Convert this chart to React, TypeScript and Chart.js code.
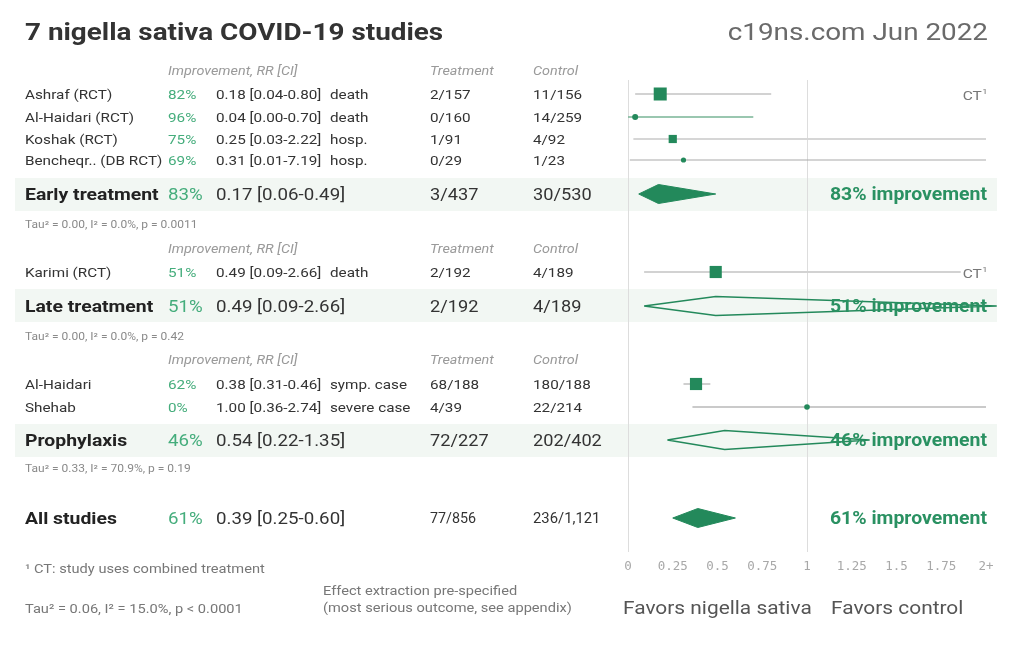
import React, { useEffect, useRef } from "react";
import { Chart, registerables } from "chart.js";

Chart.register(...registerables);

// ---------- data ----------
const studyNames = ["Ashraf (RCT)", "Al-Haidari (RCT)", "Koshak (RCT)", "Bencheqr.. (DB RCT)", "Karimi (RCT)", "Al-Haidari", "Shehab"];
const studyRR = [0.18, 0.04, 0.25, 0.31, 0.49, 0.38, 1.0];
const studyLo = [0.04, 0.0, 0.03, 0.01, 0.09, 0.31, 0.36];
const studyHi = [0.8, 0.7, 2.22, 7.19, 2.66, 0.46, 2.74];
const studyOutcome = ["death", "death", "hosp.", "hosp.", "death", "symp. case", "severe case"];
const studyTreatment = ["2/157", "0/160", "1/91", "0/29", "2/192", "68/188", "4/39"];
const studyControl = ["11/156", "14/259", "4/92", "1/23", "4/189", "180/188", "22/214"];
const studyCT = [true, false, false, false, true, false, false];

const groupNames = ["Early treatment", "Late treatment", "Prophylaxis", "All studies"];
const groupRR = [0.17, 0.49, 0.54, 0.39];
const groupLo = [0.06, 0.09, 0.22, 0.25];
const groupHi = [0.49, 2.66, 1.35, 0.6];
const groupTreatment = ["3/437", "2/192", "72/227", "77/856"];
const groupControl = ["30/530", "4/189", "202/402", "236/1,121"];
const groupStats = [
  "Tau\u00B2 = 0.00, I\u00B2 = 0.0%, p = 0.0011",
  "Tau\u00B2 = 0.00, I\u00B2 = 0.0%, p = 0.42",
  "Tau\u00B2 = 0.33, I\u00B2 = 70.9%, p = 0.19",
  "Tau\u00B2 = 0.06, I\u00B2 = 15.0%, p < 0.0001",
];

const xTickLabels = ["0", "0.25", "0.5", "0.75", "1", "1.25", "1.5", "1.75", "2+"];

const titleText = "7 nigella sativa COVID-19 studies";
const sourceText = "c19ns.com Jun 2022";
const headerLabels = ["Improvement, RR [CI]", "Treatment", "Control"];
const footnoteText = "\u00B9 CT: study uses combined treatment";
const extractionText = ["Effect extraction pre-specified", "(most serious outcome, see appendix)"];
const favorsLeft = "Favors nigella sativa";
const favorsRight = "Favors control";

// ---------- layout / style ----------
const FONT = "Roboto, 'Noto Sans', sans-serif";
const TICK_FONT = "'DejaVu Sans Mono', monospace";
const GREEN = "#23895b";
const PCT_GREEN = "#45ad7c";
const TEXT = "#333333";
const STUDY_ROW_Y = [94, 117, 139, 160, 272, 384, 407];
const GROUP_ROW_Y = [194, 306, 440, 518];
const STATS_ROW_Y = [224, 336, 468, 608];
const HEADER_ROW_Y = [70, 248, 359];
const BANDS = [[178, 211], [289, 322], [424, 457]];
const COL = { name: 25, pct: 168, rr: 216, outcome: 330, treat: 430, control: 533 };
const TEXT_DY = 1.5;
const MARKER_STYLE = ["rect", "circle", "rect", "circle", "rect", "rect", "circle"];
const MARKER_RADIUS = [9.2, 3, 5.8, 2.6, 8.6, 8.6, 2.8];
const CI_COLOR = ["#d2d2d2", "#78b596", "#d6d6d6", "#a9a9a9", "#d2d2d2", "#cfcfcf", "#b9b9b9"];
const CI_WIDTH = [2, 1.3, 2, 1, 2, 2, 1.3];
const DIAMOND_HALF = 9.5;
const X_MAX_CLIP = 2;
const DIAMOND_MAX_CLIP = 2.06;

const fmt = (v: number) => v.toFixed(2);
const pct = (rr: number) => `${Math.round((1 - rr) * 100)}%`;
const rrText = (rr: number, lo: number, hi: number) => `${fmt(rr)} [${fmt(lo)}-${fmt(hi)}]`;

function drawText(
  ctx: CanvasRenderingContext2D,
  s: string,
  x: number,
  y: number,
  font: string,
  color: string,
  align: CanvasTextAlign = "left",
  sx = 1
) {
  ctx.save();
  ctx.font = font;
  ctx.fillStyle = color;
  ctx.textAlign = align;
  ctx.textBaseline = "middle";
  ctx.translate(x, y + TEXT_DY);
  ctx.scale(sx, 1);
  ctx.fillText(s, 0, 0);
  ctx.restore();
}

const forestPlugin = {
  id: "forestText",
  beforeDraw(chart: any) {
    const ctx = chart.ctx as CanvasRenderingContext2D;
    const ys = chart.scales.y;
    ctx.save();
    ctx.fillStyle = "#f2f7f3";
    BANDS.forEach(([a, b]) => {
      const t = ys.getPixelForValue(a);
      const bt = ys.getPixelForValue(b);
      ctx.fillRect(15, t, 982, bt - t);
    });
    ctx.restore();
  },
  afterDraw(chart: any) {
    const ctx = chart.ctx as CanvasRenderingContext2D;
    const ys = chart.scales.y;
    const py = (v: number) => ys.getPixelForValue(v);

    // title
    drawText(ctx, titleText, 25, 32, `bold 24px ${FONT}`, TEXT, "left", 1.16);
    drawText(ctx, sourceText, 988, 32, `24px ${FONT}`, "#6a6a6a", "right", 1.16);

    // headers
    const hf = `italic 12.5px ${FONT}`;
    HEADER_ROW_Y.forEach((hy) => {
      const y = py(hy);
      drawText(ctx, headerLabels[0], COL.pct, y, hf, "#9a9a9a", "left", 1.15);
      drawText(ctx, headerLabels[1], COL.treat, y, hf, "#9a9a9a", "left", 1.15);
      drawText(ctx, headerLabels[2], COL.control, y, hf, "#9a9a9a", "left", 1.15);
    });

    // studies
    const sf = `13.5px ${FONT}`;
    const ssx = 1.13;
    studyNames.forEach((name, i) => {
      const y = py(STUDY_ROW_Y[i]);
      drawText(ctx, name, COL.name, y, sf, TEXT, "left", ssx);
      drawText(ctx, pct(studyRR[i]), COL.pct, y, sf, PCT_GREEN, "left", ssx);
      drawText(ctx, rrText(studyRR[i], studyLo[i], studyHi[i]), COL.rr, y, sf, TEXT, "left", ssx);
      drawText(ctx, studyOutcome[i], COL.outcome, y, sf, TEXT, "left", ssx);
      drawText(ctx, studyTreatment[i], COL.treat, y, sf, TEXT, "left", ssx);
      drawText(ctx, studyControl[i], COL.control, y, sf, TEXT, "left", ssx);
      if (studyCT[i]) {
        const csx = 1.15;
        ctx.font = `13.5px ${FONT}`;
        const w1 = ctx.measureText("CT").width * csx;
        ctx.font = `8px ${FONT}`;
        const w2 = ctx.measureText("1").width * csx;
        const right = 988;
        const left = right - w1 - w2 - 1;
        ctx.fillStyle = "#ffffff";
        ctx.fillRect(left - 2, y - 8, w1 + w2 + 4, 16);
        drawText(ctx, "CT", left, y + 1, `13.5px ${FONT}`, "#777777", "left", csx);
        drawText(ctx, "1", left + w1 + 0.5, y - 4, `8px ${FONT}`, "#777777", "left", csx);
      }
    });

    // groups
    groupNames.forEach((name, i) => {
      const y = py(GROUP_ROW_Y[i]);
      const big = `17px ${FONT}`;
      const gsx = 1.1;
      drawText(ctx, name, COL.name, y, `bold 17px ${FONT}`, "#222222", "left", 1.14);
      drawText(ctx, pct(groupRR[i]), COL.pct, y, big, PCT_GREEN, "left", gsx);
      drawText(ctx, rrText(groupRR[i], groupLo[i], groupHi[i]), COL.rr, y, big, TEXT, "left", gsx);
      if (i === 3) {
        drawText(ctx, groupTreatment[i], COL.treat, y, `14px ${FONT}`, TEXT, "left", 1.02);
        drawText(ctx, groupControl[i], COL.control, y, `14px ${FONT}`, TEXT, "left", 1.06);
      } else {
        drawText(ctx, groupTreatment[i], COL.treat, y, big, TEXT, "left", 1.07);
        drawText(ctx, groupControl[i], COL.control, y, big, TEXT, "left", 1.07);
      }
      drawText(ctx, `${pct(groupRR[i])} improvement`, 987, y, `bold 18px ${FONT}`, "#2a9162", "right", 1.08);
    });

    // group stats
    groupStats.forEach((s, i) => {
      const y = py(STATS_ROW_Y[i]);
      if (i < 3) drawText(ctx, s, COL.name, y, `10px ${FONT}`, "#8a8a8a", "left", 1.2);
      else drawText(ctx, s, COL.name, y, `12.5px ${FONT}`, "#777777", "left", 1.17);
    });

    // footnotes
    drawText(ctx, footnoteText, COL.name, 568, `12.5px ${FONT}`, "#777777", "left", 1.17);
    drawText(ctx, extractionText[0], 323, 590, `12.5px ${FONT}`, "#777777", "left", 1.17);
    drawText(ctx, extractionText[1], 323, 607, `12.5px ${FONT}`, "#777777", "left", 1.17);
    drawText(ctx, favorsLeft, 623, 608, `18px ${FONT}`, "#555555", "left", 1.16);
    drawText(ctx, favorsRight, 831, 608, `18px ${FONT}`, "#555555", "left", 1.16);
  },
};

export default function App() {
  const ref = useRef<HTMLCanvasElement>(null);

  useEffect(() => {
    const canvas = ref.current;
    if (!canvas) return;
    const datasets: any[] = [];

    // confidence interval lines
    studyNames.forEach((_, i) => {
      const y = STUDY_ROW_Y[i];
      datasets.push({
        data: [
          { x: Math.min(studyLo[i], X_MAX_CLIP), y },
          { x: Math.min(studyHi[i], X_MAX_CLIP), y },
        ],
        showLine: true,
        borderColor: CI_COLOR[i],
        borderWidth: CI_WIDTH[i],
        pointRadius: 0,
        fill: false,
        clip: false,
        order: 3,
      });
    });

    // study point estimates
    datasets.push({
      data: studyRR.map((v, i) => ({ x: v, y: STUDY_ROW_Y[i] })),
      showLine: false,
      pointStyle: MARKER_STYLE,
      pointRadius: MARKER_RADIUS,
      pointBackgroundColor: GREEN,
      pointBorderColor: GREEN,
      pointBorderWidth: 0,
      clip: false,
      order: 1,
    });

    // pooled diamonds
    groupNames.forEach((_, i) => {
      const y = GROUP_ROW_Y[i];
      const filled = groupHi[i] < 1;
      const hi = Math.min(groupHi[i], DIAMOND_MAX_CLIP);
      datasets.push({
        data: [
          { x: groupLo[i], y },
          { x: groupRR[i], y: y - DIAMOND_HALF },
          { x: hi, y },
          { x: groupRR[i], y: y + DIAMOND_HALF },
          { x: groupLo[i], y },
        ],
        showLine: true,
        tension: 0,
        borderColor: GREEN,
        borderWidth: filled ? 1 : 1.4,
        backgroundColor: GREEN,
        fill: filled ? "shape" : false,
        pointRadius: 0,
        clip: false,
        order: 2,
      });
    });

    const chart = new Chart(canvas, {
      type: "scatter",
      data: { datasets },
      plugins: [forestPlugin],
      options: {
        animation: false,
        responsive: false,
        devicePixelRatio: 1,
        events: [],
        layout: { padding: { left: 628, right: 38, top: 80, bottom: 0 } },
        plugins: { legend: { display: false }, tooltip: { enabled: false }, title: { display: false } },
        scales: {
          x: {
            type: "linear",
            min: 0,
            max: 2,
            position: "bottom",
            afterFit: (s: any) => {
              s.height = 95;
            },
            border: { display: false },
            grid: {
              drawTicks: false,
              lineWidth: 1,
              color: (c: any) =>
                c.tick && (c.tick.value === 0 || c.tick.value === 1) ? "#dddddd" : "rgba(0,0,0,0)",
            },
            ticks: {
              stepSize: 0.25,
              padding: 7,
              autoSkip: false,
              maxRotation: 0,
              color: "#a8a8a8",
              font: { family: TICK_FONT, size: 12.5 },
              callback: (v: any) => xTickLabels[Math.round(Number(v) / 0.25)] ?? "",
            },
          },
          y: { type: "linear", display: false, min: 80, max: 552, reverse: true },
        },
      } as any,
    });
    return () => chart.destroy();
  }, []);

  return (
    <div style={{ position: "absolute", left: 0, top: 0, width: 1024, height: 647, background: "#ffffff" }}>
      <canvas ref={ref} width={1024} height={647} style={{ width: 1024, height: 647, display: "block" }} />
    </div>
  );
}
